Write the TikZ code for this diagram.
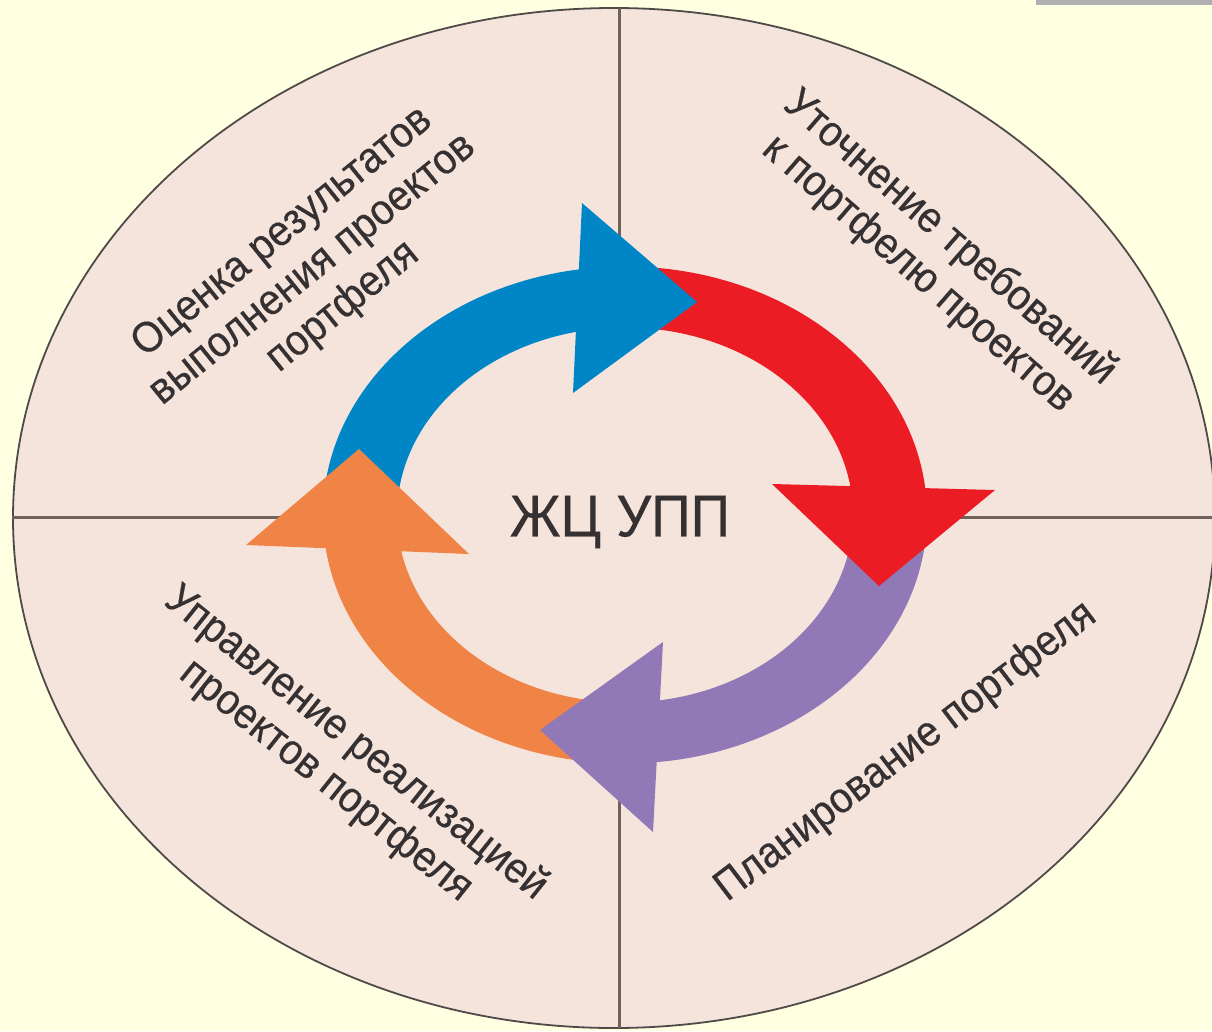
\documentclass[tikz,border=0pt]{standalone}
\usepackage{fontspec}
\setmainfont{Liberation Sans}
\newfontfamily\lblfont[FakeStretch=0.93,FakeBold=0.4]{Liberation Sans}
\definecolor{bgc}{HTML}{FFFFE1}
\definecolor{barc}{HTML}{B0B0B0}
\definecolor{ellc}{HTML}{F5E4DC}
\definecolor{ellline}{HTML}{4F4A48}
\definecolor{divc}{HTML}{6E625C}
\definecolor{txtc}{HTML}{353031}
\definecolor{bluec}{HTML}{0086C6}
\definecolor{redc}{HTML}{EC1C24}
\definecolor{purplec}{HTML}{9178B6}
\definecolor{orangec}{HTML}{F08446}
\begin{document}
\begin{tikzpicture}[x=1pt,y=-1pt,
  divline/.style={draw=divc,line width=3},
  lbl/.style={text=txtc,align=center,inner sep=0pt,font=\lblfont\fontsize{43}{48}\selectfont},
  ctrlbl/.style={text=txtc,inner sep=0pt,font=\lblfont\fontsize{59}{62}\selectfont}]
\useasboundingbox (0,0) rectangle (1212,1031);
\fill[bgc] (0,0) rectangle (1212,1031);
\begin{scope}
  \clip (0,0) rectangle (1212,1031);
  \filldraw[fill=ellc,draw=ellline,line width=1.8] (614,518) ellipse [x radius=601,y radius=510];
  % dividing lines (hidden under the arrows near the centre)
  \coordinate (lL) at (12,517);  \coordinate (lLe) at (330,517);
  \coordinate (lR) at (900,517); \coordinate (lRe) at (1215,517);
  \coordinate (lT) at (619,8);   \coordinate (lTe) at (619,280);
  \coordinate (lB) at (619,760); \coordinate (lBe) at (619,1028);
  \draw[divline] (lL) -- (lLe);
  \draw[divline] (lR) -- (lRe);
  \draw[divline] (lT) -- (lTe);
  \draw[divline] (lB) -- (lBe);
\end{scope}
\fill[barc] (1036,0) rectangle (1212,5);
% ring bands
\begin{scope}[shift={(625,515)}]
  \fill[bluec] (180:302 and 248.5) arc[start angle=180,end angle=265,x radius=302,y radius=248.5]
     -- (265:228 and 187.5) arc[start angle=265,end angle=180,x radius=228,y radius=187.5] -- cycle;
  \fill[redc] (270:302 and 248.5) arc[start angle=270,end angle=358,x radius=302,y radius=248.5]
     -- (358:228 and 187.5) arc[start angle=358,end angle=270,x radius=228,y radius=187.5] -- cycle;
  \fill[purplec] (5:302 and 248.5) arc[start angle=5,end angle=88,x radius=302,y radius=248.5]
     -- (88:228 and 187.5) arc[start angle=88,end angle=5,x radius=228,y radius=187.5] -- cycle;
  \fill[orangec] (95:302 and 248.5) arc[start angle=95,end angle=178,x radius=302,y radius=248.5]
     -- (178:228 and 187.5) arc[start angle=178,end angle=95,x radius=228,y radius=187.5] -- cycle;
\end{scope}
% arrow heads
\fill[bluec] (582,203) -- (697,302) -- (573,393) -- cycle;
\fill[redc] (772,484) -- (995,490) -- (879,586) -- cycle;
\fill[purplec] (663,642) -- (540,730) -- (653,832) -- cycle;
\fill[orangec] (246,545) -- (359,449) -- (469,554) -- cycle;
% labels
\node[lbl,rotate=39] (tl) at (313,270) {Оценка результатов\\выполнения проектов\\портфеля};
\node[lbl,rotate=-41] (tr) at (934,256) {Уточнение требований\\к портфелю проектов};
\node[lbl,rotate=-38.6] (bl) at (341,762) {Управление реализацией\\проектов портфеля};
\node[lbl,rotate=37.3] (br) at (906,752) {Планирование портфеля};
\node[ctrlbl] (ctr) at (620,522) {ЖЦ УПП};
\end{tikzpicture}
\end{document}
